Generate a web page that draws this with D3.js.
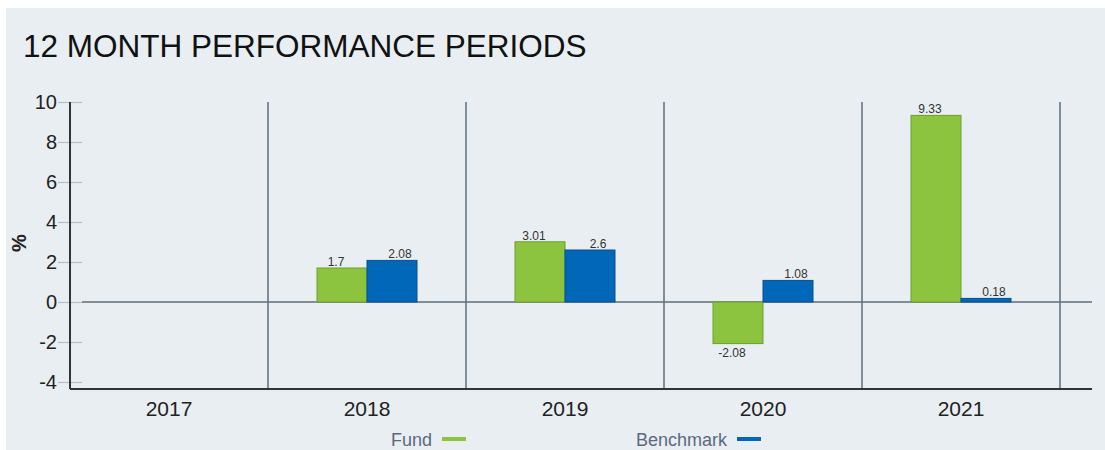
<!DOCTYPE html>
<html>
<head>
<meta charset="utf-8">
<script src="https://cdn.jsdelivr.net/npm/d3@7"></script>
<style>
  html, body { margin: 0; padding: 0; background: #ffffff; }
  svg { display: block; font-family: "Liberation Sans", Arial, sans-serif; }
</style>
</head>
<body>
<svg id="chart" width="1105" height="450"></svg>
<script>
const title = "12 MONTH PERFORMANCE PERIODS";
const categories = ["2017", "2018", "2019", "2020", "2021"];
const fundValues = [null, 1.7, 3.01, -2.08, 9.33];
const benchmarkValues = [null, 2.08, 2.6, 1.08, 0.18];
const seriesNames = ["Fund", "Benchmark"];
const yTicks = [-4, -2, 0, 2, 4, 6, 8, 10];
const yLabel = "%";

const colors = { Fund: "#8cc43f", Benchmark: "#0067b9" };
const strokes = { Fund: "#6e9e2c", Benchmark: "#0b4f8f" };

const svg = d3.select("#chart");
svg.append("rect").attr("x", 6).attr("y", 8).attr("width", 1099).attr("height", 442).attr("fill", "#e8eef1");

svg.append("text").attr("x", 23).attr("y", 57).attr("font-size", 31.5).attr("fill", "#111")
  .text(title);

const pLeft = 70, catRight = 1060, plotRight = 1092, pTop = 102, pBottom = 389;

const x = d3.scaleBand().domain(categories).range([pLeft, catRight]).padding(0);
const inner = d3.scaleBand().domain(seriesNames).range([0, 100]);
const y = d3.scaleLinear().domain([-4.35, 10]).range([pBottom, pTop]);

// vertical separators
svg.append("g").selectAll("line").data(categories).join("line")
  .attr("x1", d => x(d) + x.bandwidth()).attr("x2", d => x(d) + x.bandwidth())
  .attr("y1", pTop).attr("y2", pBottom)
  .attr("stroke", "#5f6d79").attr("stroke-width", 1.5);

// y axis with ticks extending both sides
const yAxis = d3.axisLeft(y).tickValues(yTicks).tickSize(12).tickPadding(1).tickFormat(d => String(d));
const gy = svg.append("g").attr("transform", `translate(${pLeft},0)`).call(yAxis);
gy.select(".domain").remove();
gy.selectAll(".tick line").attr("stroke", "#b8bfc4").attr("x2", 12).attr("x1", -12).attr("stroke-width", 1.2);
gy.selectAll(".tick text").attr("font-size", 20).attr("fill", "#222")
  .attr("font-family", "'Liberation Sans', Arial, sans-serif").attr("x", -13);

svg.append("line").attr("x1", pLeft).attr("x2", pLeft).attr("y1", pTop).attr("y2", pBottom)
  .attr("stroke", "#333").attr("stroke-width", 2);

// zero line
svg.append("line").attr("x1", pLeft + 12).attr("x2", plotRight).attr("y1", y(0)).attr("y2", y(0))
  .attr("stroke", "#5f6d79").attr("stroke-width", 1.5);

// bars
const data = [];
categories.forEach((c, i) => {
  data.push({ cat: c, s: "Fund", v: fundValues[i] });
  data.push({ cat: c, s: "Benchmark", v: benchmarkValues[i] });
});
const valid = data.filter(d => d.v !== null);
const bx = d => x(d.cat) + x.bandwidth() / 2 - 50 + inner(d.s);

svg.append("g").selectAll("rect").data(valid).join("rect")
  .attr("x", d => bx(d))
  .attr("y", d => y(Math.max(0, d.v)))
  .attr("width", inner.bandwidth())
  .attr("height", d => Math.abs(y(d.v) - y(0)))
  .attr("fill", d => colors[d.s])
  .attr("stroke", d => strokes[d.s]).attr("stroke-width", 1);

svg.append("g").selectAll("text").data(valid).join("text")
  .attr("x", d => bx(d) + inner.bandwidth() / 2 + (d.s === "Fund" ? -6 : 8))
  .attr("y", d => d.v >= 0 ? y(d.v) - 2 : y(d.v) + 13)
  .attr("text-anchor", "middle").attr("font-size", 12).attr("fill", "#333")
  .text(d => String(d.v));

// bottom axis
const xAxis = d3.axisBottom(x).tickSize(0).tickPadding(12);
const gx = svg.append("g").attr("transform", `translate(0,${pBottom})`).call(xAxis);
gx.select(".domain").remove();
gx.selectAll(".tick text").attr("font-size", 21).attr("fill", "#222")
  .attr("font-family", "'Liberation Sans', Arial, sans-serif");
svg.append("line").attr("x1", pLeft).attr("x2", plotRight).attr("y1", pBottom).attr("y2", pBottom)
  .attr("stroke", "#333").attr("stroke-width", 2);

// y label
svg.append("text").attr("transform", "translate(26,243) rotate(-90)")
  .attr("text-anchor", "middle").attr("font-size", 20).attr("font-weight", "bold").attr("fill", "#222")
  .text(yLabel);

// legend
const legendX = { Fund: 432, Benchmark: 727 };
const lg = svg.append("g").selectAll("g").data(seriesNames).join("g");
lg.append("text").attr("x", d => legendX[d]).attr("y", 446).attr("text-anchor", "end")
  .attr("font-size", 18).attr("fill", "#5a6a82").text(d => d);
lg.append("line").attr("x1", d => legendX[d] + 10).attr("x2", d => legendX[d] + 34)
  .attr("y1", 439).attr("y2", 439).attr("stroke", d => colors[d]).attr("stroke-width", 4);
</script>
</body>
</html>
